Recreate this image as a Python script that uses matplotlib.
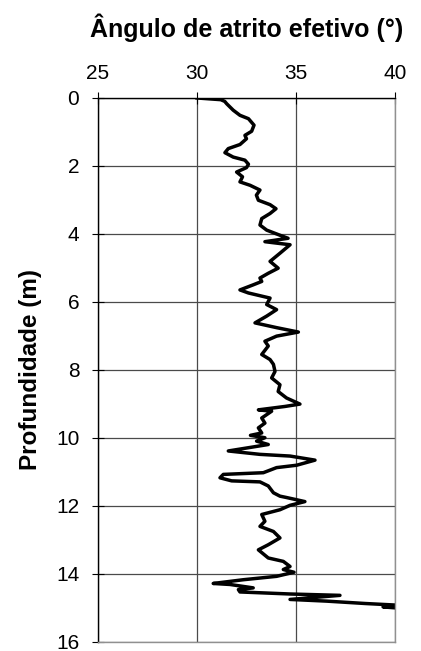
import matplotlib
matplotlib.use("Agg")
import matplotlib.pyplot as plt

# profundidade (m) e angulo de atrito efetivo (graus)
depth = [0.00, 0.05, 0.10, 0.17, 0.36, 0.51, 0.61, 0.80, 0.98, 1.10, 1.20, 1.37,
         1.49, 1.61, 1.74, 1.83, 1.95, 2.05, 2.18, 2.32, 2.47, 2.57, 2.71, 2.86,
         3.01, 3.14, 3.26, 3.40, 3.55, 3.74, 3.89, 4.04, 4.13, 4.23, 4.32, 4.57,
         4.81, 5.01, 5.16, 5.30, 5.40, 5.50, 5.65, 5.74, 5.89, 6.08, 6.23, 6.42,
         6.62, 6.76, 6.89, 7.01, 7.16, 7.30, 7.55, 7.70, 7.84, 8.05, 8.24, 8.44,
         8.64, 8.83, 9.01, 9.08, 9.18, 9.22, 9.42, 9.57, 9.71, 9.86, 9.93, 10.00,
         10.10, 10.20, 10.39, 10.49, 10.54, 10.66, 10.81, 10.88, 11.03, 11.08,
         11.18, 11.27, 11.30, 11.42, 11.62, 11.72, 11.76, 11.88, 11.99, 12.12,
         12.26, 12.46, 12.61, 12.76, 12.95, 13.15, 13.30, 13.54, 13.64, 13.79,
         13.88, 13.96, 14.08, 14.18, 14.29, 14.32, 14.42, 14.47, 14.54, 14.60,
         14.64, 14.76, 14.81, 14.88, 14.94, 14.98, 15.03]
phi = [30.0, 31.2, 31.4, 31.5, 31.83, 32.17, 32.6, 32.88, 32.76, 32.42, 32.5, 32.17,
       31.58, 31.41, 31.83, 32.42, 32.6, 32.5, 32.0, 32.3, 32.17, 32.68, 33.18, 33.0,
       33.1, 33.69, 33.99, 33.69, 33.27, 33.18, 33.52, 34.19, 34.6, 33.43, 34.7, 34.19,
       33.69, 34.1, 33.6, 33.18, 33.27, 32.84, 32.17, 32.6, 33.69, 33.52, 34.02, 33.52,
       32.93, 34.02, 35.12, 34.02, 33.43, 33.6, 33.27, 33.69, 33.86, 33.94, 33.77, 34.19,
       34.1, 34.52, 35.2, 34.44, 33.1, 33.77, 33.27, 33.43, 33.1, 33.27, 32.7, 33.43,
       33.01, 33.6, 31.58, 33.18, 34.7, 35.96, 35.03, 34.02, 33.35, 31.33,
       31.16, 31.75, 33.18, 33.6, 33.86, 34.19, 34.52, 35.45, 34.7, 34.19,
       33.27, 33.43, 33.18, 33.86, 34.19, 33.6, 33.1, 33.6, 34.36, 34.7,
       34.36, 34.9, 34.02, 32.34, 30.82, 31.67, 32.84, 32.09, 32.17, 34.7,
       37.22, 34.7, 36.55, 38.5, 40.5, 39.4, 40.5]

x_ticks = [25, 30, 35, 40]
y_ticks = [0, 2, 4, 6, 8, 10, 12, 14, 16]

plt.rcParams['font.family'] = ['Liberation Sans', 'DejaVu Sans']

fig = plt.figure(figsize=(4.21, 6.51), dpi=100)
ax = fig.add_axes([0.2328, 0.0145, 0.7054, 0.835])

ax.plot(phi, depth, color='k', linewidth=2.5, solid_joinstyle='round')

ax.set_xlim(25, 40)
ax.set_ylim(16, 0)
ax.set_xticks(x_ticks)
ax.set_yticks(y_ticks)
ax.xaxis.tick_top()
ax.xaxis.set_label_position('top')
ax.tick_params(axis='both', direction='inout', length=9, width=0.8,
               labelsize=15, color='k')
ax.tick_params(axis='x', pad=6)
ax.tick_params(axis='y', pad=9)

ax.grid(True, color='#4a4a4a', linewidth=0.9)
ax.set_axisbelow(True)

ax.spines['left'].set_color('k')
ax.spines['top'].set_color('k')
ax.spines['right'].set_color('#909090')
ax.spines['bottom'].set_color('#909090')
for s in ax.spines.values():
    s.set_linewidth(1.0)

ax.set_xlabel('Ângulo de atrito efetivo (°)', fontsize=18, fontweight='bold',
              labelpad=20)
ax.set_ylabel('Profundidade (m)', fontsize=17.5, fontweight='bold', labelpad=10)

fig.savefig('out.png', dpi=100)
